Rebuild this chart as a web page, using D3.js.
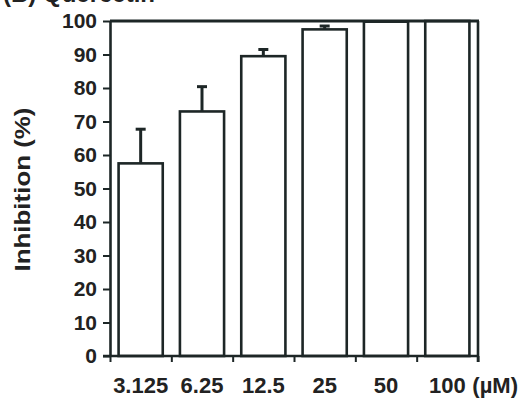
<!DOCTYPE html>
<html>
<head>
<meta charset="utf-8">
<script src="https://cdn.jsdelivr.net/npm/d3@7"></script>
<style>
  body { margin: 0; background: #fff; }
  text { font-family: "Liberation Sans", Arial, sans-serif; font-weight: bold; fill: #222; }
</style>
</head>
<body>
<svg id="chart"></svg>
<script>
// concentrations (µM) and inhibition values
const doses = ['3.125', '6.25', '12.5', '25', '50', '100'];
const inhibition = [57.5, 73, 89.5, 97.5, 99.8, 100];
const errorUp = [10.2, 7.4, 2, 1, 0, 0];
const yTicks = [0, 10, 20, 30, 40, 50, 60, 70, 80, 90, 100];

const width = 524, height = 405;
const margin = { top: 21, right: 46, bottom: 49, left: 110 };
const ink = '#1d2626';

const svg = d3.select('#chart')
  .attr('width', width)
  .attr('height', height);

const xScale = d3.scaleBand()
  .domain(doses)
  .range([margin.left, width - margin.right])
  .paddingInner(0.28)
  .paddingOuter(0.14);

const yScale = d3.scaleLinear()
  .domain([0, 100])
  .range([height - margin.bottom, margin.top]);

// panel title, mostly cut off by the top edge as in the scan
svg.append('text')
  .attr('x', 3)
  .attr('y', 2)
  .style('font-size', '24px')
  .text('(B) Quercetin');

// bars
svg.append('g')
  .selectAll('rect')
  .data(doses)
  .join('rect')
    .attr('x', d => xScale(d))
    .attr('y', (d, i) => yScale(inhibition[i]))
    .attr('width', xScale.bandwidth())
    .attr('height', (d, i) => yScale(0) - yScale(inhibition[i]))
    .attr('fill', 'none')
    .attr('stroke', ink)
    .attr('stroke-width', 2.6);

// upper error bars
const err = svg.append('g')
  .selectAll('g')
  .data(doses.filter((d, i) => errorUp[i] > 0))
  .join('g');

const cx = d => xScale(d) + xScale.bandwidth() / 2;
const errTop = d => yScale(inhibition[doses.indexOf(d)] + errorUp[doses.indexOf(d)]);

err.append('line')
  .attr('x1', cx)
  .attr('x2', cx)
  .attr('y1', d => yScale(inhibition[doses.indexOf(d)]))
  .attr('y2', errTop)
  .attr('stroke', ink)
  .attr('stroke-width', 3);

err.append('line')
  .attr('x1', d => cx(d) - 5)
  .attr('x2', d => cx(d) + 5)
  .attr('y1', errTop)
  .attr('y2', errTop)
  .attr('stroke', ink)
  .attr('stroke-width', 3);

// frame on top and right
const [x0, x1] = xScale.range();
svg.append('line')
  .attr('x1', x0).attr('x2', x1 + 1)
  .attr('y1', yScale(100)).attr('y2', yScale(100))
  .attr('stroke', ink).attr('stroke-width', 3);
svg.append('line')
  .attr('x1', x1).attr('x2', x1)
  .attr('y1', yScale(100)).attr('y2', yScale(0) + 6)
  .attr('stroke', ink).attr('stroke-width', 2.6);

// y axis
const yAxis = d3.axisLeft(yScale)
  .tickValues(yTicks)
  .tickSize(7)
  .tickPadding(6)
  .tickSizeOuter(0);

const yAxisG = svg.append('g')
  .attr('transform', `translate(${x0},0)`)
  .call(yAxis);
yAxisG.select('.domain').attr('stroke', ink).attr('stroke-width', 2.6);
yAxisG.selectAll('.tick line').attr('stroke', ink).attr('stroke-width', 2);
yAxisG.selectAll('.tick text')
  .attr('fill', '#222')
  .style('font-size', '21px')
  .style('font-family', '"Liberation Sans", Arial, sans-serif')
  .style('font-weight', 'bold');

// x axis: ticks at band edges, labels at band centres
const xEdges = d3.scaleLinear()
  .domain([0, doses.length])
  .range([x0, x1]);

const xAxisG = svg.append('g')
  .attr('transform', `translate(0,${yScale(0)})`)
  .call(d3.axisBottom(xEdges).ticks(doses.length).tickSize(6).tickFormat('').tickSizeOuter(0));
xAxisG.select('.domain')
  .attr('d', `M${x0 - 7},0H${x1}`)
  .attr('stroke', ink).attr('stroke-width', 2.6);
xAxisG.selectAll('.tick line').attr('stroke', ink).attr('stroke-width', 2);

svg.append('g')
  .selectAll('text')
  .data(doses)
  .join('text')
    .attr('x', cx)
    .attr('y', yScale(0) + 37)
    .attr('text-anchor', 'middle')
    .style('font-size', '22px')
    .text(d => d);

const last = doses[doses.length - 1];
svg.append('text')
  .attr('x', cx(last) + 25)
  .attr('y', yScale(0) + 37)
  .style('font-size', '22px')
  .text('(µM)');

// y axis title
svg.append('text')
  .attr('transform', `translate(30,${(yScale(0) + yScale(100)) / 2 + 1}) rotate(-90)`)
  .attr('text-anchor', 'middle')
  .style('font-size', '22px')
  .attr('textLength', 164)
  .attr('lengthAdjust', 'spacingAndGlyphs')
  .text('Inhibition (%)');
</script>
</body>
</html>
